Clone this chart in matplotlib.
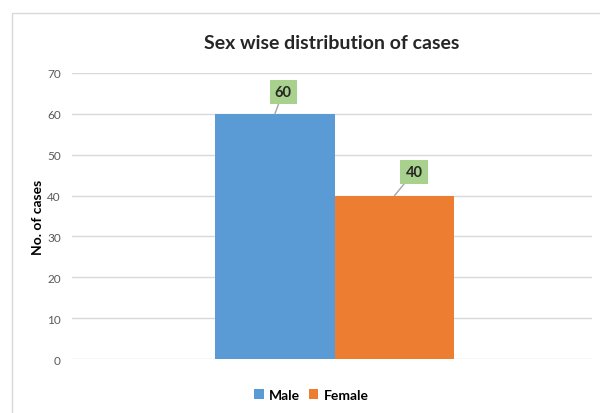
import matplotlib
matplotlib.use("Agg")
import matplotlib.pyplot as plt
from matplotlib.patches import Rectangle

plt.rcParams['font.family'] = ['Lato', 'DejaVu Sans']

series = ["Male", "Female"]
cases = [60, 40]
colors = ["#5b9bd5", "#ed7d31"]
yticks = [0, 10, 20, 30, 40, 50, 60, 70]

fig = plt.figure(figsize=(6, 4.14), dpi=100)
fig.patches.append(Rectangle((0.02, -0.01), 1.0, 0.977, transform=fig.transFigure,
                             fill=False, edgecolor="#d9d9d9", linewidth=1))

ax = fig.add_axes([0.12, 0.1304, 0.867, 0.6909])
width = 0.23
offsets = [-width / 2, width / 2]
bars = []
for name, val, col, off in zip(series, cases, colors, offsets):
    b = ax.bar(off, val, width=width, color=col, label=name, zorder=3)
    bars.append(b[0])

ax.set_xlim(-0.505, 0.495)
ax.set_ylim(0, 70)
ax.set_yticks(yticks)
ax.set_xticks([])
ax.grid(axis="y", color="#d9d9d9", linewidth=1, zorder=0)
for s in ax.spines.values():
    s.set_visible(False)
ax.tick_params(axis="y", length=0, pad=8, labelsize=8.5, labelcolor="#595959")

ax.set_ylabel("No. of cases", fontsize=10, fontweight="bold")
ax.yaxis.set_label_coords(-0.053, 0.5)
ax.set_title("Sex wise distribution of cases", fontsize=14, fontweight="bold",
             pad=18, color="#262626")

# data labels sitting in green boxes, tied to the bar tops by leader lines
label_offsets = [(6, 16), (14, 17)]
for bar, val, (dx, dy) in zip(bars, cases, label_offsets):
    x0 = bar.get_x() + bar.get_width() / 2
    ax.annotate(str(val), xy=(x0, val),
                xytext=(dx, dy), textcoords="offset points",
                ha="center", va="center", fontsize=10.5, fontweight="bold",
                color="#262626",
                bbox=dict(boxstyle="square,pad=0.35", facecolor="#a9d18e", edgecolor="none"),
                arrowprops=dict(arrowstyle="-", color="#a6a6a6", linewidth=1,
                                shrinkA=0, shrinkB=0),
                zorder=5)

ax.legend(loc="upper center", bbox_to_anchor=(0.46, -0.06), ncol=2, frameon=False,
          handlelength=0.7, handleheight=0.7, handletextpad=0.4, columnspacing=0.6,
          prop={"weight": "bold", "size": 10})

fig.savefig("out.png", dpi=100)
